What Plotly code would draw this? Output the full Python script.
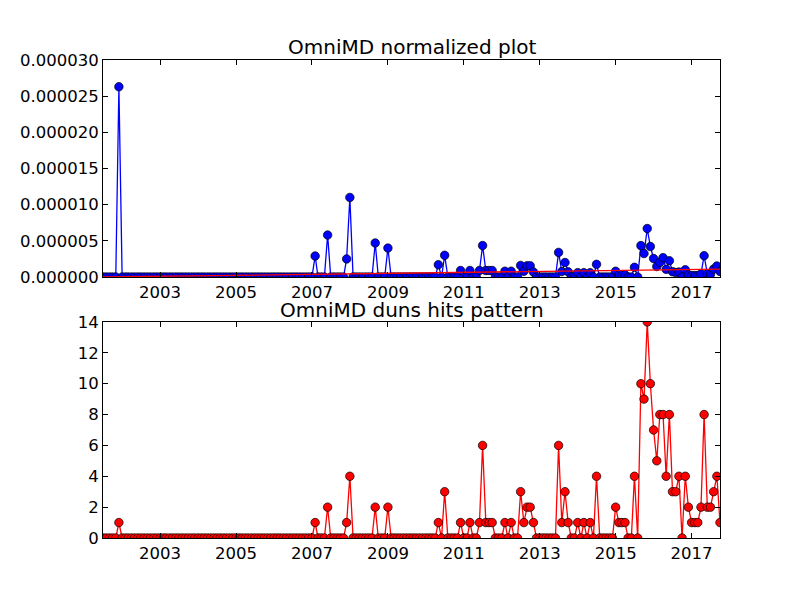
import pandas as pd
import plotly.graph_objects as go
from plotly.subplots import make_subplots

# ── Data (monthly, Jul 2001 .. Oct 2017) ─────────────────────────────────────
START_MONTH = "2001-07-01"

# duns hits per month, one row per calendar year
HITS = (
    [0, 0, 0, 0, 0, 1]                               # 2001 (Jul-Dec)
    + [0] * 12                                       # 2002
    + [0] * 12                                       # 2003
    + [0] * 12                                       # 2004
    + [0] * 12                                       # 2005
    + [0] * 12                                       # 2006
    + [0, 1, 0, 0, 0, 2, 0, 0, 0, 0, 0, 1]           # 2007
    + [4, 0, 0, 0, 0, 0, 0, 0, 2, 0, 0, 0]           # 2008
    + [2, 0, 0, 0, 0, 0, 0, 0, 0, 0, 0, 0]           # 2009
    + [0, 0, 0, 0, 1, 0, 3, 0, 0, 0, 0, 1]           # 2010
    + [0, 0, 1, 0, 0, 1, 6, 1, 1, 1, 0, 0]           # 2011
    + [0, 1, 0, 1, 0, 0, 3, 1, 2, 2, 1, 0]           # 2012
    + [0, 0, 0, 0, 0, 0, 6, 1, 3, 1, 0, 0]           # 2013
    + [1, 0, 1, 0, 1, 0, 4, 0, 0, 0, 0, 0]           # 2014
    + [2, 1, 1, 1, 0, 0, 4, 0, 10, 9, 14, 10]        # 2015
    + [7, 5, 8, 8, 4, 8, 3, 3, 4, 0, 4, 2]           # 2016
    + [1, 1, 1, 2, 8, 2, 2, 3, 4, 1]                 # 2017 (Jan-Oct)
)

# normalized hits, in units of 1e-6
NORM_E6 = (
    [0, 0, 0, 0, 0, 26.3]                                        # 2001
    + [0] * 12                                                   # 2002
    + [0] * 12                                                   # 2003
    + [0] * 12                                                   # 2004
    + [0] * 12                                                   # 2005
    + [0] * 12                                                   # 2006
    + [0, 2.9, 0, 0, 0, 5.8, 0, 0, 0, 0, 0, 2.5]                 # 2007
    + [11.0, 0, 0, 0, 0, 0, 0, 0, 4.7, 0, 0, 0]                  # 2008
    + [4.0, 0, 0, 0, 0, 0, 0, 0, 0, 0, 0, 0]                     # 2009
    + [0, 0, 0, 0, 1.7, 0, 3.0, 0, 0, 0, 0, 0.9]                 # 2010
    + [0, 0, 0.9, 0, 0, 0.9, 4.35, 0.9, 0.9, 0.9, 0, 0]          # 2011
    + [0, 0.8, 0, 0.8, 0, 0, 1.6, 0.8, 1.55, 1.55, 0.7, 0]       # 2012
    + [0, 0, 0, 0, 0, 0, 3.4, 0.75, 2.0, 0.72, 0, 0]             # 2013
    + [0.6, 0, 0.6, 0, 0.6, 0, 1.75, 0, 0, 0, 0, 0]              # 2014
    + [0.8, 0.3, 0.3, 0.3, 0, 0, 1.34, 0, 4.34, 3.25, 6.7, 4.22] # 2015
    + [2.56, 1.45, 2.03, 2.68, 1.06, 2.25, 0.74, 0.62, 0.68, 0, 1.0, 0.3]  # 2016
    + [0.2, 0.2, 0.2, 0.42, 2.95, 0.46, 0.37, 1.1, 1.52, 0.76]   # 2017
)

# red trend line on the normalized plot (first and last month), units of 1e-6
TREND_E6 = [0.0, 1.1]

TICK_YEARS = [2003, 2005, 2007, 2009, 2011, 2013, 2015, 2017]
NORM_TICKS_E6 = [0, 5, 10, 15, 20, 25, 30]
HITS_TICKS = [0, 2, 4, 6, 8, 10, 12, 14]

TOP_TITLE = "OmniMD normalized plot"
BOTTOM_TITLE = "OmniMD duns hits pattern"

# ── Style ────────────────────────────────────────────────────────────────────
FONT = "DejaVu Sans"
BLUE = "#0000ff"
RED = "#ff0000"

months = pd.date_range(START_MONTH, periods=len(HITS), freq="MS")
norm = [v * 1e-6 for v in NORM_E6]
trend_x = [months[0], months[-1]]
trend_y = [v * 1e-6 for v in TREND_E6]

fig = make_subplots(rows=2, cols=1)

fig.add_trace(go.Scatter(
    x=months, y=norm, mode="lines+markers",
    line=dict(color=BLUE, width=1.3),
    marker=dict(color=BLUE, size=8.5, line=dict(color="black", width=0.7)),
    showlegend=False,
), row=1, col=1)

fig.add_trace(go.Scatter(
    x=trend_x, y=trend_y, mode="lines",
    line=dict(color=RED, width=1.3),
    showlegend=False,
), row=1, col=1)

fig.add_trace(go.Scatter(
    x=months, y=HITS, mode="lines+markers",
    line=dict(color=RED, width=1.3),
    marker=dict(color=RED, size=8.5, line=dict(color="black", width=0.7)),
    showlegend=False,
), row=2, col=1)

axis_style = dict(
    showline=True, linecolor="black", linewidth=1, mirror="ticks",
    ticks="inside", ticklen=5, tickcolor="black", tickwidth=1,
    showgrid=False, zeroline=False,
    tickfont=dict(family=FONT, size=16.5, color="black"),
)

date_ticks = [f"{y}-01-01" for y in TICK_YEARS]
for r in (1, 2):
    fig.update_xaxes(
        **axis_style,
        range=[months[0], months[-1]],
        tickvals=date_ticks, ticktext=[str(y) for y in TICK_YEARS],
        row=r, col=1,
    )

fig.update_yaxes(
    **axis_style, range=[0, 3e-5],
    tickvals=[v * 1e-6 for v in NORM_TICKS_E6], tickformat=".6f",
    domain=[0.546, 1.0], row=1, col=1,
)
fig.update_yaxes(
    **axis_style, range=[0, 14], tickvals=HITS_TICKS,
    domain=[0.0, 0.452], row=2, col=1,
)

# page body adds an 8px offset, so margins are trimmed on the left/top
for text, y in [(TOP_TITLE, 1.027), (BOTTOM_TITLE, 0.476)]:
    fig.add_annotation(
        text=text, xref="paper", yref="paper", x=0.5, y=y,
        xanchor="center", yanchor="middle", showarrow=False,
        font=dict(family=FONT, size=20, color="black"),
    )

fig.update_layout(
    width=800, height=600,
    margin=dict(l=92, r=88, t=52, b=70),
    paper_bgcolor="white", plot_bgcolor="white",
    font=dict(family=FONT, color="black"),
)

fig.write_html("out.html")
